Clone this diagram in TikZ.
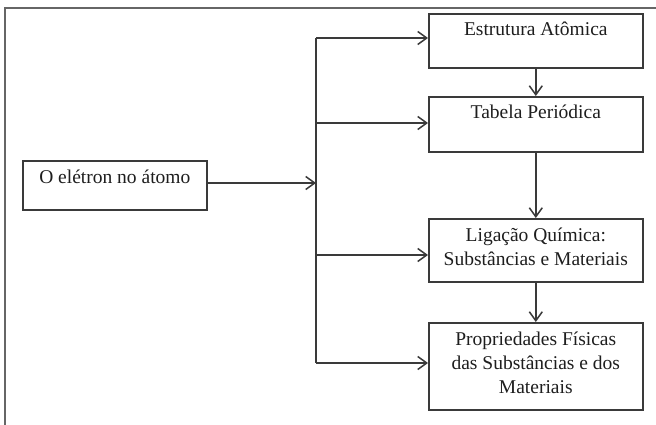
\documentclass[tikz,border=0pt]{standalone}
\usepackage{fontspec}
\setmainfont{Liberation Serif}
\usetikzlibrary{arrows.meta}
\definecolor{linec}{HTML}{3A3A3A}
\definecolor{framec}{HTML}{666666}
\definecolor{txtc}{HTML}{1E1E1E}
\begin{document}
\begin{tikzpicture}[x=1pt,y=-1pt,
  box/.style={draw=linec, line width=1.6pt, minimum width=214pt, inner sep=0pt, anchor=north west},
  txt/.style={anchor=base, inner sep=0pt, font=\fontsize{19.5}{24}\selectfont, text=txtc},
  conn/.style={draw=linec, line width=1.5pt, -{Straight Barb[length=9pt,width=13pt]}},
  bus/.style={draw=linec, line width=1.5pt}]
\useasboundingbox (0,0) rectangle (656,425);
\clip (0,0) rectangle (656,425);
\fill[white] (0,0) rectangle (656,425);
\draw[draw=framec, line width=1.6pt] (5,440) -- (5,8) -- (670,8);

\node[box, minimum height=54pt] (b1) at (428,13) {};
\node[box, minimum height=55pt] (b2) at (428,96) {};
\node[box, minimum height=63pt] (b3) at (428,218) {};
\node[box, minimum height=87pt] (b4) at (428,322) {};
\node[box, minimum width=184pt, minimum height=49pt] (b0) at (22,160) {};

\node[txt] (t0) at ([yshift=-23pt]b0.north) {O elétron no átomo};
\node[txt] (t1) at ([yshift=-23pt]b1.north) {Estrutura Atômica};
\node[txt] (t2) at ([yshift=-23pt]b2.north) {Tabela Periódica};
\node[txt] (t3a) at ([yshift=-23pt]b3.north) {Ligação Química:};
\node[txt] (t3b) at ([yshift=-47pt]b3.north) {Substâncias e Materiais};
\node[txt] (t4a) at ([yshift=-23pt]b4.north) {Propriedades Físicas};
\node[txt] (t4b) at ([yshift=-47pt]b4.north) {das Substâncias e dos};
\node[txt] (t4c) at ([yshift=-71pt]b4.north) {Materiais};

\coordinate (j0) at (316,183);
\coordinate (j1) at (316,38);
\coordinate (j2) at (316,123);
\coordinate (j3) at (316,255);
\coordinate (j4) at (316,363);

\draw[conn] (b0.east |- j0) -- (j0);
\draw[bus] (j1) -- (j4);
\draw[conn] (j1) -- (j1 -| b1.west);
\draw[conn] (j2) -- (j2 -| b2.west);
\draw[conn] (j3) -- (j3 -| b3.west);
\draw[conn] (j4) -- (j4 -| b4.west);

\draw[conn] (b1.south) -- (b2.north);
\draw[conn] (b2.south) -- (b3.north);
\draw[conn] (b3.south) -- (b4.north);
\end{tikzpicture}
\end{document}
